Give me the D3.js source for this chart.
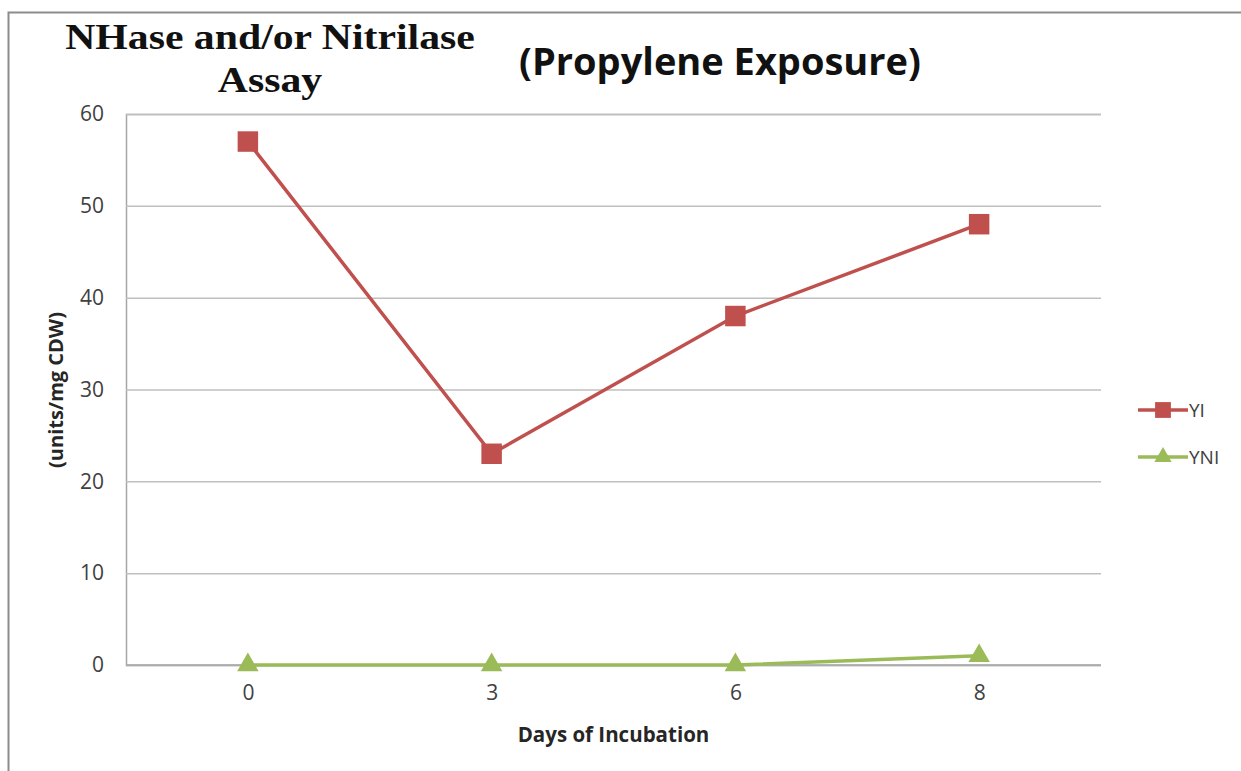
<!DOCTYPE html>
<html>
<head>
<meta charset="utf-8">
<script src="https://cdn.jsdelivr.net/npm/d3@7"></script>
<style>
  body { margin: 0; background: #fff; }
</style>
</head>
<body>
<svg width="1241" height="771" font-family="'Open Sans', sans-serif"></svg>
<script>
const svg = d3.select('svg');

const width = +svg.attr('width');
const height = +svg.attr('height');

// data
const days = ['0', '3', '6', '8'];
const yiValues = [57, 23, 38, 48];
const yniValues = [0, 0, 0, 1];
const yTicks = [0, 10, 20, 30, 40, 50, 60];

const series = [
  { name: 'YI', values: yiValues, color: '#c0504d', shape: d3.symbolSquare, size: 420, legendSize: 250 },
  { name: 'YNI', values: yniValues, color: '#9bbb59', shape: d3.symbolTriangle, size: 200, legendSize: 130 }
];

const margin = { top: 114, right: 140, bottom: 106, left: 126 };
const innerWidth = width - margin.left - margin.right;
const innerHeight = height - margin.top - margin.bottom;

// outer chart border
svg.append('rect')
  .attr('x', 8.5).attr('y', 12.5)
  .attr('width', width).attr('height', height)
  .attr('fill', 'none')
  .attr('stroke', '#8c8c8c')
  .attr('stroke-width', 2);

const xScale = d3.scalePoint()
  .domain(days)
  .range([0, innerWidth])
  .padding(0.5);

const yScale = d3.scaleLinear()
  .domain([0, 60])
  .range([innerHeight, 0]);

const g = svg.append('g')
  .attr('transform', `translate(${margin.left},${margin.top})`);

// y axis with gridlines
const yAxis = d3.axisLeft(yScale)
  .tickValues(yTicks)
  .tickSize(-innerWidth)
  .tickPadding(22);

const yG = g.append('g').call(yAxis);
yG.select('.domain').attr('stroke', '#a6a6a6').attr('stroke-width', 1.5);
yG.selectAll('.tick line').attr('stroke', '#bfbfbf').attr('stroke-width', 1.5);
yG.selectAll('.tick text')
  .attr('font-size', 21)
  .attr('font-family', "'Open Sans', sans-serif")
  .attr('fill', '#404040');

// x axis
const xAxis = d3.axisBottom(xScale)
  .tickSize(0)
  .tickPadding(20);

const xG = g.append('g')
  .attr('transform', `translate(0,${innerHeight})`)
  .call(xAxis);
xG.select('.domain').attr('stroke', '#a6a6a6').attr('stroke-width', 1.5)
  .attr('d', `M0,0H${innerWidth}`);
xG.selectAll('.tick text')
  .attr('font-size', 21)
  .attr('font-family', "'Open Sans', sans-serif")
  .attr('fill', '#404040');

// lines and markers
const line = d3.line()
  .x((d, i) => xScale(days[i]))
  .y(d => yScale(d));

series.forEach(s => {
  g.append('path')
    .datum(s.values)
    .attr('fill', 'none')
    .attr('stroke', s.color)
    .attr('stroke-width', 3.5)
    .attr('d', line);

  g.selectAll(null)
    .data(s.values)
    .enter().append('path')
      .attr('d', d3.symbol().type(s.shape).size(s.size))
      .attr('transform', (d, i) => `translate(${xScale(days[i])},${yScale(d)})`)
      .attr('fill', s.color);
});

// legend
const legend = svg.append('g')
  .attr('transform', 'translate(1138,410)');

series.forEach((s, i) => {
  const row = legend.append('g').attr('transform', `translate(0,${i * 47})`);
  row.append('line')
    .attr('x1', 0).attr('x2', 50)
    .attr('stroke', s.color)
    .attr('stroke-width', 3.5);
  row.append('path')
    .attr('d', d3.symbol().type(s.shape).size(s.legendSize))
    .attr('transform', 'translate(25,0)')
    .attr('fill', s.color);
  row.append('text')
    .attr('x', 51).attr('y', 7)
    .attr('font-size', 19)
    .attr('fill', '#404040')
    .text(s.name);
});

// axis titles
svg.append('text')
  .attr('x', margin.left + innerWidth / 2)
  .attr('y', 742)
  .attr('text-anchor', 'middle')
  .attr('font-size', 20.5)
  .attr('font-weight', 'bold')
  .attr('fill', '#262626')
  .text('Days of Incubation');

svg.append('text')
  .attr('transform', 'translate(63,390) rotate(-90)')
  .attr('text-anchor', 'middle')
  .attr('font-size', 20)
  .attr('font-weight', 'bold')
  .attr('fill', '#262626')
  .text('(units/mg CDW)');

// chart titles (serif one is stretched a bit, like Cambria)
const title = svg.append('g')
  .attr('transform', 'translate(270,0) scale(1.16,1)')
  .append('text')
    .attr('text-anchor', 'middle')
    .attr('font-family', "'Liberation Serif', serif")
    .attr('font-weight', 'bold')
    .attr('font-size', 36)
    .attr('fill', '#111');
title.append('tspan').attr('x', 0).attr('y', 49).text('NHase and/or Nitrilase');
title.append('tspan').attr('x', 0).attr('y', 92).text('Assay');

svg.append('text')
  .attr('x', 720)
  .attr('y', 75)
  .attr('text-anchor', 'middle')
  .attr('font-size', 38)
  .attr('font-weight', 'bold')
  .attr('fill', '#111')
  .text('(Propylene Exposure)');
</script>
</body>
</html>
